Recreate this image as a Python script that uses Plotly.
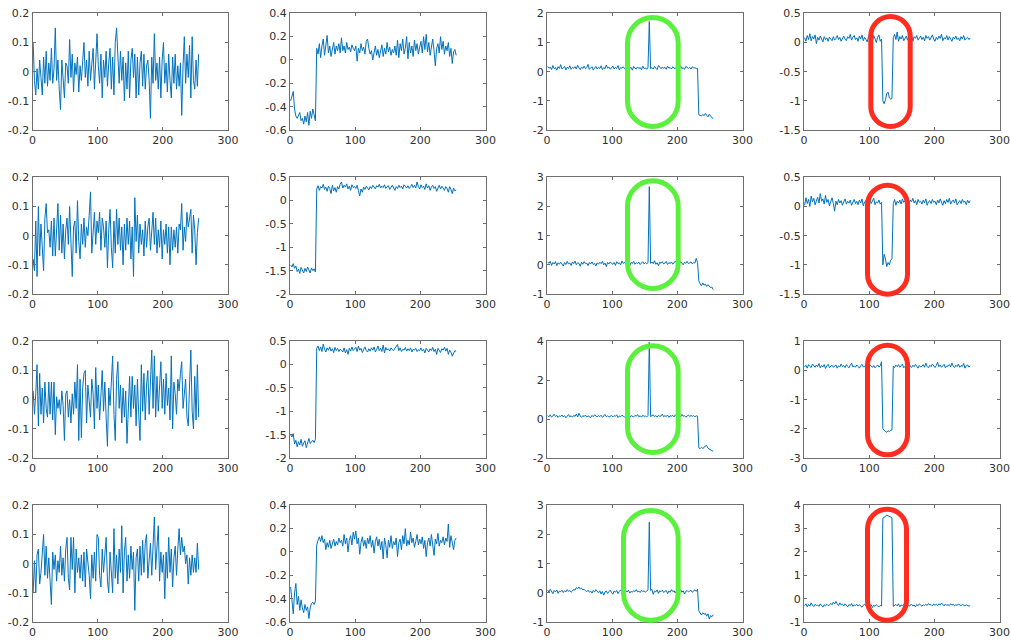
import plotly.graph_objects as go

# ---------------- data (sample index 1..255, every 2nd sample) ----------------
X = list(range(1, 256, 2))

r1c1 = [0.10, -0.03, -0.08, 0.01, -0.06, 0.04, -0.02, -0.08, 0.05, -0.04,
        0.07, -0.05, 0.03, -0.03, 0.08, -0.04, 0.01, 0.15, -0.03, 0.04,
        -0.06, -0.13, 0.04, -0.02, -0.09, 0.03, 0.02, -0.04, 0.11, -0.02,
        0.06, -0.07, 0.03, -0.01, 0.05, -0.07, 0.02, -0.03, 0.03, 0.10,
        -0.02, 0.04, -0.05, 0.07, -0.03, 0.02, 0.08, -0.06, 0.04, 0.13,
        0.02, -0.04, 0.06, -0.09, 0.04, -0.02, 0.07, -0.05, 0.03, 0.08,
        -0.06, 0.05, -0.08, 0.10, 0.15, 0.03, -0.04, 0.07, -0.03, 0.05,
        -0.10, 0.03, -0.06, 0.07, -0.09, 0.04, 0.08, -0.02, 0.06, -0.09,
        0.05, -0.08, 0.03, 0.07, -0.05, 0.06, -0.06, 0.02, 0.04, -0.03,
        -0.16, 0.05, -0.04, 0.13, -0.03, 0.03, -0.06, 0.05, -0.09, 0.04,
        0.10, -0.04, 0.03, -0.07, 0.06, -0.03, -0.09, 0.05, -0.04, 0.06,
        -0.06, 0.02, -0.05, 0.03, -0.15, 0.02, 0.12, -0.04, 0.06, -0.02,
        0.09, -0.09, 0.12, -0.03, -0.06, 0.04, -0.05, 0.06]

r2c1 = [-0.08, -0.12, 0.05, -0.14, 0.10, -0.07, 0.04, -0.05, -0.12, 0.06,
        0.11, 0.01, 0.02, -0.04, 0.05, -0.07, 0.06, -0.07, 0.03, 0.11,
        -0.05, 0.07, -0.06, 0.04, -0.08, 0.02, 0.06, -0.03, 0.10, -0.04,
        -0.14, 0.03, 0.05, -0.06, 0.12, -0.02, -0.08, 0.04, -0.03, 0.06,
        -0.04, 0.03, 0.00, 0.07, 0.15, -0.06, 0.02, 0.08, -0.03, 0.05,
        0.01, 0.08, -0.05, 0.06, 0.03, -0.04, 0.05, -0.11, 0.02, 0.09,
        -0.04, -0.11, 0.05, -0.06, 0.09, -0.03, 0.06, -0.05, 0.03, -0.10,
        0.04, -0.05, 0.06, -0.03, 0.05, -0.08, 0.03, -0.14, 0.13, -0.02,
        0.07, -0.06, 0.04, -0.03, 0.02, -0.07, 0.05, -0.04, 0.03, 0.06,
        -0.05, 0.04, 0.08, -0.03, 0.06, -0.06, 0.02, -0.04, 0.05, -0.08,
        0.02, -0.03, 0.04, -0.06, 0.03, -0.10, 0.03, -0.05, 0.02, -0.04,
        0.03, -0.06, 0.04, 0.02, 0.11, -0.05, 0.03, -0.02, 0.08, 0.03,
        0.06, 0.09, -0.06, 0.07, 0.02, -0.10, 0.01, 0.06]

r3c1 = [0.03, -0.05, 0.02, 0.12, -0.09, 0.09, -0.05, 0.04, -0.08, 0.06,
        -0.03, -0.06, 0.06, -0.05, 0.06, -0.07, 0.06, -0.12, 0.01, -0.03,
        0.00, -0.05, 0.03, -0.02, -0.14, 0.02, 0.03, -0.06, 0.00, -0.08,
        0.02, -0.05, 0.06, -0.03, 0.12, -0.14, 0.07, -0.13, 0.04, 0.09,
        0.10, -0.08, 0.05, -0.02, -0.06, 0.07, 0.02, -0.10, 0.11, -0.03,
        0.05, -0.07, 0.03, 0.10, -0.04, 0.06, -0.06, -0.16, 0.04, -0.02,
        0.06, 0.15, -0.05, -0.14, 0.07, 0.13, -0.03, 0.05, -0.08, 0.04,
        -0.06, 0.03, -0.15, -0.02, 0.08, -0.06, 0.08, -0.03, 0.05, -0.09,
        0.07, -0.05, -0.14, 0.12, -0.04, 0.09, -0.07, 0.05, 0.10, -0.05,
        0.06, 0.17, -0.03, 0.15, -0.06, 0.08, -0.04, 0.05, 0.13, -0.03,
        0.07, -0.05, 0.09, -0.02, 0.04, -0.07, 0.15, -0.10, 0.06, 0.02,
        -0.05, 0.07, 0.03, 0.09, 0.13, -0.03, 0.04, 0.07, -0.06, -0.09,
        0.05, 0.17, -0.04, -0.10, 0.08, -0.07, 0.12, -0.06]

r4c1 = [-0.10, 0.01, -0.10, 0.03, 0.05, -0.07, -0.03, 0.04, 0.10, -0.04,
        0.06, -0.05, 0.02, -0.06, -0.14, 0.04, -0.02, 0.03, -0.06, 0.01,
        -0.03, 0.06, -0.04, 0.02, -0.06, 0.05, 0.09, -0.05, -0.09, 0.09,
        -0.02, 0.09, -0.10, 0.05, -0.03, 0.02, -0.05, 0.03, -0.06, 0.04,
        -0.08, 0.05, 0.01, -0.04, -0.12, 0.03, -0.05, 0.04, -0.06, 0.10,
        0.09, -0.04, -0.08, 0.05, -0.03, 0.02, 0.09, -0.06, -0.10, 0.04,
        -0.02, -0.10, 0.12, -0.05, 0.03, -0.07, 0.05, -0.03, 0.13, -0.10,
        0.04, 0.09, -0.06, 0.03, -0.05, 0.06, -0.02, 0.04, -0.16, 0.02,
        0.05, -0.06, 0.06, -0.04, 0.08, -0.03, 0.07, 0.10, -0.05, 0.03,
        0.07, -0.04, 0.09, 0.16, -0.02, 0.05, 0.13, -0.06, 0.04, -0.03,
        0.03, -0.12, 0.04, -0.05, 0.09, -0.03, 0.05, -0.08, 0.02, 0.06,
        -0.04, 0.05, 0.12, 0.03, 0.09, 0.04, 0.06, 0.00, 0.03, -0.07,
        0.02, -0.04, 0.03, -0.03, 0.02, -0.03, 0.07, -0.02]

r1c2 = [-0.35, -0.30, -0.27, -0.42, -0.48, -0.50, -0.47, -0.45, -0.52, -0.50,
        -0.55, -0.48, -0.53, -0.45, -0.56, -0.44, -0.50, -0.42, -0.47, -0.52,
        0.10, 0.05, 0.14, 0.02, 0.12, 0.18, 0.04, 0.15, 0.21, 0.06,
        0.12, 0.03, 0.09, 0.15, 0.05, 0.12, 0.08, 0.14, 0.06, 0.19,
        0.08, 0.12, 0.06, 0.15, 0.09, 0.11, 0.07, 0.13, 0.10, 0.08,
        0.12, -0.01, 0.10, 0.06, 0.14, 0.08, 0.11, 0.05, 0.16, 0.18,
        0.10, 0.05, 0.08, 0.00, 0.06, 0.12, 0.04, 0.09, 0.02, 0.07,
        0.13, 0.03, 0.10, 0.05, 0.15, 0.07, 0.11, 0.04, 0.09, 0.06,
        0.12, 0.04, 0.17, 0.02, 0.14, 0.08, 0.18, 0.05, 0.10, 0.20,
        0.01, 0.15, 0.06, 0.12, 0.03, 0.17, 0.08, 0.14, 0.05, 0.11,
        0.16, 0.06, 0.20, 0.09, 0.22, 0.07, 0.15, 0.04, 0.12, 0.18,
        0.08, -0.05, 0.10, 0.14, 0.06, 0.20, 0.09, 0.16, 0.05, 0.12,
        0.08, 0.15, 0.03, 0.10, -0.03, 0.07, 0.09, 0.04]

r2c2 = [-1.38, -1.42, -1.35, -1.45, -1.40, -1.52, -1.47, -1.56, -1.43, -1.50,
        -1.55, -1.45, -1.52, -1.42, -1.48, -1.55, -1.44, -1.50, -1.46, -1.53,
        0.25, 0.32, 0.22, 0.30, 0.27, 0.35, 0.24, 0.29, 0.20, 0.31,
        0.26, 0.15, 0.33, 0.21, 0.28, 0.18, 0.30, 0.25, 0.35, 0.40,
        0.27, 0.33, 0.29, 0.36, 0.25, 0.31, 0.22, 0.34, 0.28, 0.30,
        0.26, 0.33, 0.21, 0.10, 0.25, 0.18, 0.29, 0.24, 0.31, 0.27,
        0.23, 0.30, 0.26, 0.33, 0.28, 0.25, 0.32, 0.29, 0.35, 0.27,
        0.31, 0.28, 0.34, 0.26, 0.30, 0.32, 0.24, 0.29, 0.33, 0.27,
        0.22, 0.30, 0.26, 0.33, 0.28, 0.31, 0.25, 0.34, 0.29, 0.27,
        0.32, 0.26, 0.30, 0.35, 0.28, 0.33, 0.27, 0.40, 0.30, 0.25,
        0.34, 0.28, 0.31, 0.24, 0.36, 0.27, 0.32, 0.22, 0.29, 0.33,
        0.26, 0.30, 0.20, 0.28, 0.33, 0.25, 0.31, 0.27, 0.22, 0.30,
        0.26, 0.18, 0.30, 0.24, 0.15, 0.27, 0.21, 0.23]

r3c2 = [-1.50, -1.55, -1.48, -1.70, -1.62, -1.76, -1.65, -1.72, -1.60, -1.75,
        -1.68, -1.63, -1.78, -1.66, -1.58, -1.69, -1.64, -1.62, -1.67, -1.60,
        0.35, 0.40, 0.30, 0.38, 0.28, 0.44, 0.33, 0.27, 0.36, 0.31,
        0.38, 0.29, 0.34, 0.26, 0.37, 0.30, 0.35, 0.28, 0.33, 0.31,
        0.27, 0.36, 0.25, 0.32, 0.22, 0.35, 0.29, 0.38, 0.30, 0.34,
        0.37, 0.28, 0.40, 0.31, 0.35, 0.26, 0.33, 0.38, 0.30, 0.27,
        0.34, 0.29, 0.36, 0.31, 0.38, 0.27, 0.33, 0.40, 0.30, 0.35,
        0.28, 0.42, 0.25, 0.37, 0.31, 0.34, 0.29, 0.36, 0.32, 0.30,
        0.35, 0.38, 0.43, 0.30, 0.36, 0.28, 0.33, 0.31, 0.37, 0.29,
        0.34, 0.30, 0.36, 0.27, 0.33, 0.31, 0.35, 0.28, 0.32, 0.30,
        0.36, 0.29, 0.33, 0.25, 0.35, 0.31, 0.27, 0.34, 0.30, 0.37,
        0.28, 0.33, 0.22, 0.35, 0.30, 0.26, 0.34, 0.31, 0.37, 0.29,
        0.35, 0.22, 0.31, 0.27, 0.18, 0.25, 0.30, 0.28]

r4c2 = [-0.30, -0.42, -0.53, -0.35, -0.27, -0.45, -0.38, -0.50, -0.41, -0.48,
        -0.52, -0.45, -0.50, -0.47, -0.57, -0.48, -0.44, -0.43, -0.45, -0.42,
        0.06, 0.10, 0.13, 0.09, 0.14, 0.08, 0.11, 0.02, 0.08, 0.04,
        0.10, 0.03, 0.07, 0.11, 0.05, 0.09, 0.06, 0.12, 0.08, 0.10,
        0.05, 0.15, 0.07, 0.12, 0.00, 0.10, 0.14, 0.06, 0.17, 0.11,
        0.18, 0.07, 0.12, -0.02, 0.08, 0.13, 0.05, 0.10, 0.03, 0.12,
        0.07, 0.14, 0.04, 0.10, -0.01, 0.09, 0.13, 0.05, 0.11, 0.02,
        0.09, -0.06, 0.12, 0.06, -0.05, 0.10, 0.04, 0.14, 0.03, 0.09,
        0.06, 0.12, -0.04, 0.08, 0.11, 0.02, 0.14, 0.07, 0.20, 0.05,
        0.10, 0.06, 0.17, 0.08, 0.12, 0.04, 0.09, 0.15, 0.06, 0.11,
        0.07, 0.13, 0.03, 0.10, -0.04, 0.08, 0.12, 0.05, 0.15, 0.06,
        -0.03, 0.11, 0.07, 0.16, 0.05, 0.10, 0.08, 0.13, 0.06, 0.12,
        0.09, 0.24, 0.04, 0.14, 0.07, 0.02, 0.10, 0.12]

r1c3 = [0.18, 0.12, 0.15, 0.07, 0.21, 0.10, 0.14, 0.05, 0.17, 0.11,
        0.24, 0.09, 0.13, 0.18, 0.06, 0.15, 0.11, 0.20, 0.08, 0.14,
        0.12, 0.17, 0.09, 0.22, 0.13, 0.07, 0.16, 0.11, 0.19, 0.10,
        0.14, 0.25, 0.08, 0.13, 0.17, 0.06, 0.12, 0.18, 0.09, 0.15,
        0.11, 0.20, 0.07, 0.14, 0.10, 0.23, 0.12, 0.16, 0.08, 0.13,
        0.19, 0.09, 0.15, 0.11, 0.21, 0.06, 0.14, 0.12, 0.17, 0.10,
        0.13, 0.08, 0.22, 0.11, 0.15, 0.05, 0.18, 0.12, 0.09, 0.16,
        0.11, 0.14, 0.07, 0.19, 0.10, 0.13, 0.08, 0.15,
        1.72,
        0.10,
        0.14, 0.09, 0.18, 0.12, 0.07, 0.21, 0.13, 0.10, 0.16, 0.11,
        0.15, 0.08, 0.19, 0.12, 0.14, 0.09, 0.17, 0.11, 0.13, 0.07,
        0.16, 0.12, 0.20, 0.10, 0.14, 0.08, 0.18, 0.13, 0.11, 0.15,
        0.09, 0.17, 0.12, 0.14, 0.10, 0.11,
        -1.48,
        -1.50, -1.52, -1.47, -1.51, -1.43, -1.50, -1.55, -1.46, -1.53, -1.58, -1.60]

r2c3 = [0.10, 0.05, 0.12, -0.02, 0.08, 0.03, 0.11, -0.03, 0.07, 0.02,
        0.09, 0.04, -0.04, 0.08, 0.01, 0.12, 0.03, 0.06, -0.02, 0.10,
        0.04, 0.13, 0.00, 0.07, 0.05, -0.05, 0.09, 0.02, 0.11, 0.04,
        0.06, -0.03, 0.08, 0.03, 0.10, 0.01, 0.05, -0.04, 0.07, 0.02,
        0.09, 0.04, 0.12, 0.00, 0.06, -0.06, 0.08, 0.03, 0.10, 0.05,
        0.02, 0.08, -0.02, 0.11, 0.04, 0.07, 0.00, 0.13, 0.05, 0.09,
        0.03, 0.10, 0.06, -0.03, 0.08, 0.04, 0.12, 0.02, 0.07, 0.05,
        0.09, 0.01, 0.06, 0.11, 0.03, 0.08, 0.04, 0.07,
        2.68,
        0.05,
        0.10, 0.04, 0.14, 0.02, 0.07, -0.03, 0.09, 0.05, 0.11, 0.03,
        0.06, 0.12, 0.01, 0.08, 0.04, 0.10, 0.02, 0.07, 0.13, 0.05,
        0.08, 0.03, 0.11, 0.06, 0.00, 0.09, 0.05, 0.12, 0.04, 0.07,
        0.10, 0.03, 0.08, 0.06, 0.22, 0.08,
        -0.55,
        -0.65, -0.72, -0.62, -0.70, -0.66, -0.74, -0.68, -0.72, -0.78, -0.76, -0.85]

r3c3 = [0.18, 0.12, 0.22, 0.10, 0.16, 0.25, 0.13, 0.19, 0.09, 0.17,
        0.14, 0.21, 0.11, 0.18, 0.07, 0.15, 0.23, 0.12, 0.17, 0.10,
        0.19, 0.14, 0.26, 0.11, 0.30, 0.16, 0.09, 0.18, 0.13, 0.21,
        0.10, 0.17, 0.14, 0.08, 0.19, 0.12, 0.22, 0.15, 0.11, 0.18,
        0.13, 0.20, 0.09, 0.16, 0.24, 0.12, 0.17, 0.10, 0.15, 0.19,
        0.11, 0.18, 0.14, 0.22, 0.08, 0.16, 0.12, 0.20, 0.15, 0.10,
        0.17, 0.13, 0.21, 0.09, 0.18, 0.14, 0.11, 0.19, 0.15, 0.23,
        0.12, 0.17, 0.10, 0.20, 0.14, 0.16, 0.11, 0.18,
        3.95,
        0.13,
        0.17, 0.22, 0.12, 0.18, 0.10, 0.20, 0.14, 0.16, 0.25, 0.12,
        0.18, 0.13, 0.21, 0.09, 0.17, 0.15, 0.19, 0.11, 0.22, 0.14,
        0.16, 0.20, 0.12, 0.24, 0.15, 0.18, 0.10, 0.17, 0.21, 0.13,
        0.19, 0.14, 0.18, 0.12, 0.17, 0.15,
        -1.48,
        -1.52, -1.45, -1.50, -1.47, -1.38, -1.35, -1.50, -1.55, -1.58, -1.62, -1.65]

r4c3 = [0.10, 0.02, 0.12, 0.05, -0.03, 0.08, 0.03, 0.10, -0.02, 0.06,
        0.04, 0.09, 0.01, 0.07, 0.03, 0.11, 0.05, 0.08, 0.02, 0.06,
        0.12, 0.09, 0.18, 0.14, 0.20, 0.13, 0.16, 0.10, 0.12, 0.07,
        0.04, 0.09, 0.02, 0.06, -0.01, 0.08, 0.03, 0.11, 0.05, 0.00,
        0.07, -0.04, 0.05, -0.08, 0.03, 0.06, -0.02, 0.04, 0.09, 0.01,
        -0.05, 0.06, 0.02, 0.08, -0.03, 0.05, 0.10, 0.01, 0.04, -0.02,
        0.07, 0.03, 0.09, -0.01, 0.05, 0.02, 0.08, 0.04, 0.11, 0.03,
        0.06, 0.01, 0.09, 0.04, 0.07, 0.02, 0.08, 0.10,
        2.42,
        0.08,
        0.12, -0.05, 0.06, 0.03, 0.10, -0.02, 0.07, 0.04, 0.09, 0.01,
        0.05, 0.08, -0.03, 0.06, 0.02, 0.11, 0.04, 0.07, -0.01, 0.09,
        0.03, 0.06, 0.10, 0.02, 0.07, -0.04, 0.05, 0.08, 0.03, 0.06,
        0.09, 0.02, 0.07, 0.10, 0.05, 0.12,
        -0.62,
        -0.70, -0.76, -0.68, -0.74, -0.70, -0.80, -0.72, -0.90, -0.78, -0.82, -0.75]

r1c4 = [0.08, 0.02, 0.12, 0.05, 0.15, 0.03, 0.10, 0.06, 0.13, -0.02,
        0.09, 0.04, 0.11, 0.07, 0.01, 0.10, 0.05, 0.08, 0.02, 0.09,
        0.06, 0.03, 0.10, 0.04, 0.07, 0.12, 0.05, 0.09, 0.02, 0.08,
        0.11, 0.06, 0.03, 0.10, 0.07, 0.14, 0.04, 0.09, 0.12, 0.05,
        0.08, 0.02, 0.11, 0.06, 0.13, 0.03, 0.09, 0.05, 0.01, 0.10,
        0.17, 0.06, 0.03, 0.12, 0.04, 0.00, 0.09, 0.13, 0.02, 0.06,
        -1.00, -1.05, -0.98, -0.88, -0.85, -0.95, -0.97, -0.96,
        0.08, 0.14,
        0.05, 0.18, 0.02, 0.10, 0.06, 0.12, 0.03, 0.08, 0.11, 0.04,
        0.09, 0.06, 0.13, 0.02, 0.10, 0.07, 0.12, 0.04, 0.08, 0.11,
        0.05, 0.09, 0.03, 0.12, 0.07, 0.10, 0.04, 0.08, 0.13, 0.06,
        0.02, 0.09, 0.05, 0.11, 0.07, 0.14, 0.03, 0.08, 0.06, 0.12,
        0.04, 0.10, 0.07, 0.02, 0.09, 0.06, 0.11, 0.05, 0.08, 0.03,
        0.10, 0.06, 0.12, 0.04, 0.07, 0.09, 0.05, 0.08]

r2c4 = [0.02, 0.15, 0.05, 0.12, 0.00, 0.18, 0.08, 0.14, 0.03, 0.11,
        0.16, 0.06, 0.22, 0.09, 0.13, 0.04, 0.19, 0.07, 0.12, 0.01,
        0.10, 0.15, 0.05, -0.08, 0.09, 0.03, 0.12, 0.06, 0.10, 0.02,
        0.08, 0.13, 0.04, 0.09, 0.06, 0.11, 0.02, 0.07, 0.12, 0.05,
        0.09, 0.03, 0.11, 0.06, 0.13, 0.01, 0.08, 0.10, 0.04, 0.07,
        0.12, 0.05, 0.09, 0.14, 0.03, 0.08, 0.06, 0.11, 0.04, 0.07,
        -1.00, -0.82, -0.90, -1.03, -0.96, -1.00, -0.92, -0.90,
        0.05, 0.12,
        0.02, 0.09, 0.06, 0.11, 0.04, 0.13, 0.07, 0.10, 0.08, 0.12,
        0.05, 0.11, 0.08, 0.14, 0.06, 0.10, 0.03, 0.12, 0.07, 0.09,
        0.04, 0.11, 0.06, 0.13, 0.02, 0.08, 0.10, 0.05, 0.12, 0.07,
        0.09, 0.03, 0.11, 0.06, 0.13, 0.08, 0.02, 0.10, 0.05, 0.12,
        0.07, 0.14, 0.04, 0.09, 0.11, 0.06, 0.13, 0.03, 0.08, 0.10,
        0.05, 0.12, 0.07, 0.09, 0.03, 0.11, 0.06, 0.10]

r3c4 = [0.12, 0.18, 0.08, 0.20, 0.14, 0.10, 0.22, 0.15, 0.11, 0.19,
        0.13, 0.24, 0.09, 0.17, 0.12, 0.20, 0.07, 0.16, 0.21, 0.10,
        0.15, 0.18, 0.11, 0.14, 0.19, 0.08, 0.16, 0.12, 0.22, 0.13,
        0.17, 0.10, 0.20, 0.14, 0.09, 0.18, 0.25, 0.12, 0.16, 0.11,
        0.19, 0.14, 0.08, 0.17, 0.21, 0.12, 0.15, 0.10, 0.18, 0.13,
        0.20, 0.15, 0.11, 0.17, 0.09, 0.14, 0.19, 0.12, 0.16, 0.30,
        -2.00, -2.05, -2.08, -2.12, -2.06, -2.10, -2.05, -2.04,
        0.15, 0.10,
        0.18, 0.13, 0.20, 0.11, 0.16, 0.22, 0.09, 0.15, 0.19, 0.12,
        0.27, 0.14, 0.10, 0.18, 0.13, 0.21, 0.16, 0.08, 0.17, 0.12,
        0.15, 0.20, 0.11, 0.25, 0.14, 0.09, 0.18, 0.13, 0.22, 0.16,
        0.10, 0.17, 0.28, 0.13, 0.19, 0.11, 0.15, 0.21, 0.09, 0.16,
        0.14, 0.20, 0.12, 0.26, 0.15, 0.10, 0.18, 0.13, 0.22, 0.11,
        0.17, 0.14, 0.24, 0.08, 0.16, 0.19, 0.12, 0.15]

r4c4 = [-0.30, -0.22, -0.35, -0.25, -0.32, -0.18, -0.28, -0.34, -0.24, -0.30,
        -0.27, -0.33, -0.22, -0.29, -0.36, -0.26, -0.31, -0.24, -0.30, -0.28,
        -0.20, -0.26, -0.15, -0.23, -0.12, -0.22, -0.30, -0.18, -0.27, -0.24,
        -0.31, -0.22, -0.28, -0.35, -0.25, -0.30, -0.21, -0.33, -0.27, -0.29,
        -0.24, -0.32, -0.26, -0.30, -0.36, -0.28, -0.23, -0.31, -0.27, -0.34,
        -0.30, -0.25, -0.38, -0.28, -0.33, -0.26, -0.31, -0.35, -0.29, -0.32,
        3.45, 3.48, 3.52, 3.58, 3.55, 3.53, 3.50, 3.47,
        -0.33, -0.28,
        -0.25, -0.31, -0.22, -0.35, -0.27, -0.30, -0.24, -0.32, -0.28, -0.26,
        -0.33, -0.29, -0.24, -0.31, -0.27, -0.35, -0.25, -0.30, -0.22, -0.28,
        -0.32, -0.26, -0.30, -0.24, -0.29, -0.21, -0.27, -0.25, -0.31, -0.23,
        -0.28, -0.24, -0.30, -0.22, -0.27, -0.19, -0.26, -0.31, -0.23, -0.29,
        -0.25, -0.30, -0.22, -0.28, -0.24, -0.31, -0.26, -0.29, -0.23, -0.27,
        -0.30, -0.25, -0.28, -0.31, -0.26, -0.29, -0.32, -0.30]

SERIES = [[r1c1, r1c2, r1c3, r1c4],
          [r2c1, r2c2, r2c3, r2c4],
          [r3c1, r3c2, r3c3, r3c4],
          [r4c1, r4c2, r4c3, r4c4]]

# axis ranges and tick labels
X_TICKS = [0, 100, 200, 300]
X_TEXT = ["0", "100", "200", "300"]

Y_RANGES = [[(-0.2, 0.2), (-0.6, 0.4), (-2, 2), (-1.5, 0.5)],
            [(-0.2, 0.2), (-2, 0.5), (-1, 3), (-1.5, 0.5)],
            [(-0.2, 0.2), (-2, 0.5), (-2, 4), (-3, 1)],
            [(-0.2, 0.2), (-0.6, 0.4), (-1, 3), (-1, 4)]]

T_A = ([-0.2, -0.1, 0, 0.1, 0.2], ["-0.2", "-0.1", "0", "0.1", "0.2"])
T_B = ([-0.6, -0.4, -0.2, 0, 0.2, 0.4], ["-0.6", "-0.4", "-0.2", "0", "0.2", "0.4"])
T_C = ([-2, -1, 0, 1, 2], ["-2", "-1", "0", "1", "2"])
T_D = ([-1.5, -1, -0.5, 0, 0.5], ["-1.5", "-1", "-0.5", "0", "0.5"])
T_E = ([-2, -1.5, -1, -0.5, 0, 0.5], ["-2", "-1.5", "-1", "-0.5", "0", "0.5"])
T_F = ([-1, 0, 1, 2, 3], ["-1", "0", "1", "2", "3"])
T_G = ([-2, 0, 2, 4], ["-2", "0", "2", "4"])
T_H = ([-3, -2, -1, 0, 1], ["-3", "-2", "-1", "0", "1"])
T_I = ([-1, 0, 1, 2, 3, 4], ["-1", "0", "1", "2", "3", "4"])
Y_TICKS = [[T_A, T_B, T_C, T_D],
           [T_A, T_E, T_F, T_D],
           [T_A, T_E, T_G, T_H],
           [T_A, T_B, T_F, T_I]]

for row in SERIES:
    for s in row:
        if len(s) != len(X):
            raise ValueError("length %d" % len(s))

# ---------------- layout (pixel geometry) ----------------
W, H = 1011, 640
COL_LEFT = [32.5, 290.0, 547.0, 804.0]
PLOT_W = 195.5
ROW_TOP = [13.3, 177.3, 341.3, 505.3]
PLOT_H = 116.7

LINE_C = "#0072BD"
AX_C = "#6e6e6e"
TXT_C = "#303030"
FONT = "DejaVu Sans"

fig = go.Figure()
layout = dict(template="none", width=W, height=H, autosize=False,
              margin=dict(l=0, r=0, t=0, b=0, pad=0),
              paper_bgcolor="white", plot_bgcolor="white", showlegend=False,
              font=dict(family=FONT, size=11, color=TXT_C))

for r in range(4):
    for c in range(4):
        n = r * 4 + c + 1
        sfx = "" if n == 1 else str(n)
        fig.add_trace(go.Scatter(x=X, y=SERIES[r][c], mode="lines",
                                 line=dict(color=LINE_C, width=1),
                                 xaxis="x" + sfx, yaxis="y" + sfx,
                                 hoverinfo="skip"))
        x0 = COL_LEFT[c] / W
        x1 = (COL_LEFT[c] + PLOT_W) / W
        y1 = 1 - ROW_TOP[r] / H
        y0 = 1 - (ROW_TOP[r] + PLOT_H) / H
        common = dict(showline=True, linecolor=AX_C, linewidth=1, mirror="ticks",
                      ticks="inside", ticklen=3, tickwidth=1, tickcolor=AX_C,
                      showgrid=False, zeroline=False, fixedrange=True,
                      automargin=False,
                      tickfont=dict(family=FONT, size=11, color=TXT_C))
        layout["xaxis" + sfx] = dict(common, domain=[x0, x1], range=[0, 300],
                                     tickmode="array", tickvals=X_TICKS, ticktext=X_TEXT,
                                     anchor="y" + sfx)
        tv, tt = Y_TICKS[r][c]
        layout["yaxis" + sfx] = dict(common, domain=[y0, y1], range=list(Y_RANGES[r][c]),
                                     tickmode="array", tickvals=tv, ticktext=tt,
                                     anchor="x" + sfx)

fig.update_layout(**layout)

# ---------------- highlight rings (pixel boxes of the stroke centre line) ----------------
GREEN = "#5cf03e"
RED = "#ff2d20"
RINGS = [
    (627.5, 678.2, 17.5, 126.5, GREEN), (627.5, 678.2, 180.8, 288.5, GREEN),
    (627.5, 678.2, 345.8, 452.5, GREEN), (623.5, 678.2, 510.5, 620.2, GREEN),
    (870.8, 910.2, 16.5, 126.5, RED), (867.5, 907.5, 185.2, 294.2, RED),
    (867.5, 907.5, 345.2, 454.8, RED), (867.5, 906.5, 509.2, 620.2, RED),
]


def P(px, py):
    return "%.5f,%.5f" % (px / W, 1 - py / H)


K = 0.5523
for L, R, T, B, col in RINGS:
    rr = (R - L) / 2
    cx = (L + R) / 2
    path = ("M" + P(L, T + rr) +
            " C" + P(L, T + rr - K * rr) + " " + P(cx - K * rr, T) + " " + P(cx, T) +
            " C" + P(cx + K * rr, T) + " " + P(R, T + rr - K * rr) + " " + P(R, T + rr) +
            " L" + P(R, B - rr) +
            " C" + P(R, B - rr + K * rr) + " " + P(cx + K * rr, B) + " " + P(cx, B) +
            " C" + P(cx - K * rr, B) + " " + P(L, B - rr + K * rr) + " " + P(L, B - rr) +
            " Z")
    fig.add_shape(type="path", path=path, xref="paper", yref="paper",
                  line=dict(color=col, width=5), fillcolor="rgba(0,0,0,0)",
                  layer="above")

fig.write_html("out.html",
               config={"displayModeBar": False, "staticPlot": True},
               post_script="document.body.style.margin='0';document.body.style.overflow='hidden';")
